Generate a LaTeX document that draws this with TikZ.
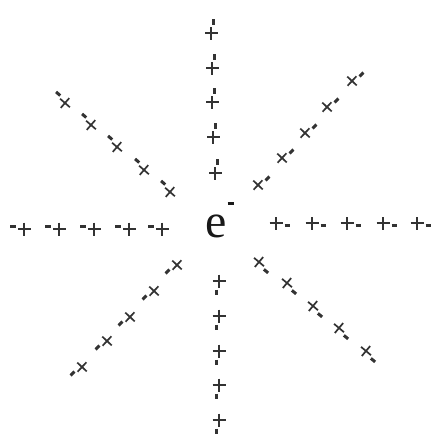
\documentclass[tikz,border=0pt]{standalone}
\usepackage{fontspec}
\setmainfont{Liberation Serif}
\tikzset{
  ink/.style={draw=black!80},
  dipole/.pic={
    \draw[ink,line width=1.7pt] (-6.5pt,0pt) -- (6.5pt,0pt) (0pt,-6.5pt) -- (0pt,6.5pt);
    \draw[ink,line width=3pt] (8.5pt,-2.5pt) -- (14pt,-2.5pt);
  }
}
\begin{document}
\begin{tikzpicture}[x=1pt,y=-1pt]
\useasboundingbox (0,0) rectangle (434,440);
% centre charge
\node[inner sep=0pt,anchor=base,text=black!90] (e) at (219.5,237)
  {\fontsize{48}{48}\selectfont e\kern1pt\raisebox{32pt}{\rule{6pt}{2.6pt}}};
% top
\foreach \x/\y [count=\i] in {211/33,212/68,212/102,213/137,215/173}
  \pic[rotate=90] (t\i) at (\x,\y) {dipole};
% bottom
\foreach \x/\y [count=\i] in {219/281,219/316,219/351,219/385,219/420}
  \pic[rotate=270] (b\i) at (\x,\y) {dipole};
% left
\foreach \x/\y [count=\i] in {24/229,59/229,94/229,129/229,162/229}
  \pic[rotate=180] (l\i) at (\x,\y) {dipole};
% right
\foreach \x/\y [count=\i] in {276/223,312/223,347/223,383/223,417/223}
  \pic[rotate=0] (r\i) at (\x,\y) {dipole};
% upper left
\foreach \x/\y [count=\i] in {65/103,91/125,117/147,144/170,170/192}
  \pic[rotate=139] (ul\i) at (\x,\y) {dipole};
% upper right
\foreach \x/\y [count=\i] in {352/81,327/107,305/133,282/158,258/185}
  \pic[rotate=47] (ur\i) at (\x,\y) {dipole};
% lower left
\foreach \x/\y [count=\i] in {82/367,107/341,130/317,154/291,177/265}
  \pic[rotate=227] (ll\i) at (\x,\y) {dipole};
% lower right
\foreach \x/\y [count=\i] in {259/262,287/283,313/306,339/328,366/351}
  \pic[rotate=320] (lr\i) at (\x,\y) {dipole};
\end{tikzpicture}
\end{document}
